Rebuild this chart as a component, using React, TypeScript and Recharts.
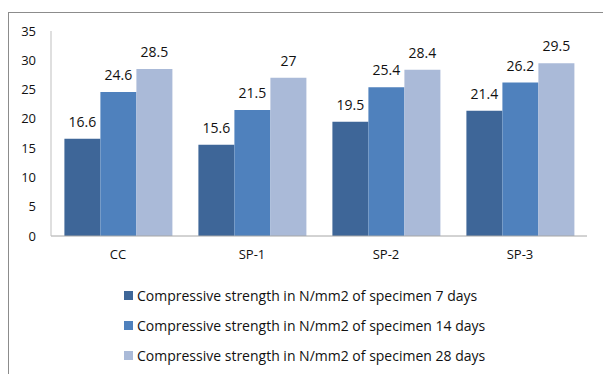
import React from 'react';
import { BarChart, Bar, XAxis, YAxis, LabelList } from 'recharts';

const categories = ['CC', 'SP-1', 'SP-2', 'SP-3'];
const days7 = [16.6, 15.6, 19.5, 21.4];
const days14 = [24.6, 21.5, 25.4, 26.2];
const days28 = [28.5, 27, 28.4, 29.5];
const yTicks = [0, 5, 10, 15, 20, 25, 30, 35];

const series = [
  { key: 'd7', name: 'Compressive strength in N/mm2 of specimen 7 days', color: '#3E6698', values: days7 },
  { key: 'd14', name: 'Compressive strength in N/mm2 of specimen 14 days', color: '#4F81BD', values: days14 },
  { key: 'd28', name: 'Compressive strength in N/mm2 of specimen 28 days', color: '#AABAD8', values: days28 },
];

const data = categories.map((c, i) => {
  const row: Record<string, string | number> = { name: c };
  series.forEach((s) => {
    row[s.key] = s.values[i];
  });
  return row;
});

const font = '"Open Sans", sans-serif';

const App = () => (
  <div style={{ position: 'absolute', left: 0, top: 0, width: 603, height: 374, background: '#fff', overflow: 'hidden', fontFamily: font }}>
    <div style={{ position: 'absolute', left: 8, top: 12, width: 620, height: 400, border: '1px solid #8c8c8c', boxSizing: 'border-box' }} />
    <div style={{ position: 'absolute', left: 0, top: 0 }}>
      <BarChart
        width={603}
        height={374}
        data={data}
        margin={{ top: 31, right: 16, left: 0, bottom: 108 }}
        barCategoryGap="10%"
        barGap={0}
      >
        <XAxis
          dataKey="name"
          height={30}
          tickLine={false}
          tickSize={0}
          tickMargin={14}
          axisLine={{ stroke: '#a6a6a6' }}
          tick={{ fill: '#111', fontSize: 13, fontFamily: font }}
        />
        <YAxis
          width={51}
          domain={[0, 35]}
          ticks={yTicks}
          interval={0}
          tickLine={false}
          tickSize={0}
          tickMargin={15}
          axisLine={{ stroke: '#bfbfbf' }}
          tick={{ fill: '#111', fontSize: 13, fontFamily: font }}
        />
        {series.map((s) => (
          <Bar key={s.key} dataKey={s.key} name={s.name} fill={s.color} isAnimationActive={false}>
            <LabelList dataKey={s.key} position="top" offset={12} fill="#111" fontSize={14} fontFamily={font} />
          </Bar>
        ))}
      </BarChart>
    </div>
    <div style={{ position: 'absolute', left: 124, top: 280 }}>
      {series.map((s) => (
        <div key={s.key} style={{ display: 'flex', alignItems: 'center', height: 30 }}>
          <span style={{ display: 'inline-block', width: 9, height: 9, background: s.color, marginRight: 4 }} />
          <span style={{ fontSize: 14, color: '#111', whiteSpace: 'nowrap' }}>{s.name}</span>
        </div>
      ))}
    </div>
  </div>
);

export default App;
